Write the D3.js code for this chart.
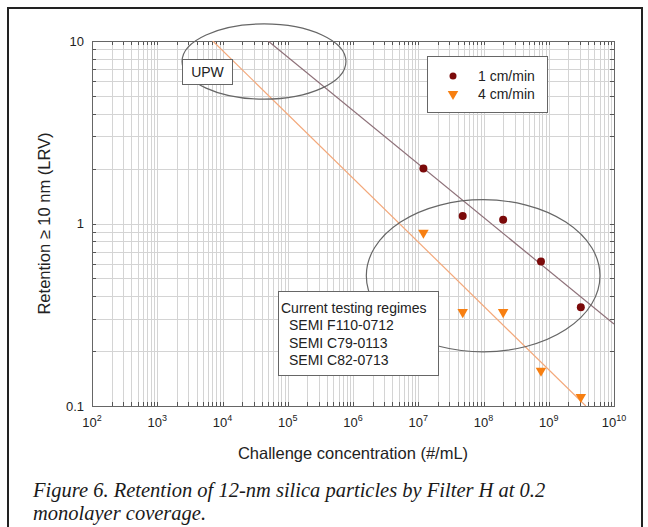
<!DOCTYPE html>
<html lang="en">
<head>
    <meta charset="UTF-8">
    <title>Retention of 12-nm silica particles</title>
    <style>
        body {
            margin: 0;
            padding: 0;
            background: #fff;
            overflow: hidden;
        }

        text {
            font-family: "Liberation Sans", Arial, sans-serif;
            fill: #222;
        }

        .grid line {
            stroke: #d4d4d4;
            stroke-width: 1px;
        }

        .note {
            fill: #fff;
            stroke: #666;
            stroke-width: 1px;
        }

        .caption {
            font-family: "Liberation Serif", "Times New Roman", serif;
            font-style: italic;
            font-size: 20.5px;
            fill: #1a1a1a;
        }
    </style>
</head>
<body>
    <script src="https://d3js.org/d3.v7.min.js"></script>
    <script>
        // measured values (LRV vs challenge concentration)
        const concentration = [1.2e7, 4.8e7, 2.0e8, 7.6e8, 3.1e9];
        const lrv1cm = [2.0, 1.10, 1.05, 0.62, 0.348];
        const lrv4cm = [0.89, 0.327, 0.327, 0.156, 0.112];

        // fitted trend lines, end points
        const fit1cm = [[5.0e4, 10], [1e10, 0.281]];
        const fit4cm = [[7.1e3, 10], [3.7e9, 0.1]];

        const seriesNames = ["1 cm/min", "4 cm/min"];
        const xTickExps = [2, 3, 4, 5, 6, 7, 8, 9, 10];
        const yTickLabels = ["0.1", "1", "10"];

        // annotation ellipses, data extents [x0, x1], [y0, y1]
        const upwEllipse = [[2.4e3, 7.8e5], [4.8, 12.4]];
        const regimeEllipse = [[1.6e6, 6.1e9], [0.198, 1.35]];
        const regimeLines = ["Current testing regimes", "SEMI F110-0712", "SEMI C79-0113", "SEMI C82-0713"];

        const width = 648, height = 527;
        const margin = { top: 41, right: 34, bottom: 121, left: 92 };

        const svg = d3.select("body").append("svg")
            .attr("width", width)
            .attr("height", height);

        // outer frame
        svg.append("path")
            .attr("d", `M8,${height} V8 H642 V${height}`)
            .attr("fill", "none")
            .attr("stroke", "#222")
            .attr("stroke-width", 2);

        const x = d3.scaleLog()
            .domain([1e2, 1e10])
            .range([margin.left, width - margin.right]);

        const y = d3.scaleLog()
            .domain([0.1, 10])
            .range([height - margin.bottom, margin.top]);

        const [x0, x1] = x.range();
        const [y0, y1] = y.range();

        // minor/major grid values
        const xGrid = [];
        for (let e = 2; e < 10; e++) {
            for (let m = 1; m < 10; m++) xGrid.push(m * Math.pow(10, e));
        }
        xGrid.push(1e10);
        const yGrid = [];
        for (let e = -1; e < 1; e++) {
            for (let m = 1; m < 10; m++) yGrid.push(m * Math.pow(10, e));
        }
        yGrid.push(10);

        const grid = svg.append("g").attr("class", "grid");
        grid.selectAll(".vx")
            .data(xGrid)
            .enter().append("line")
            .attr("x1", d => Math.round(x(d)) + 0.5)
            .attr("x2", d => Math.round(x(d)) + 0.5)
            .attr("y1", y1)
            .attr("y2", y0);
        grid.selectAll(".hy")
            .data(yGrid)
            .enter().append("line")
            .attr("y1", d => Math.round(y(d)) + 0.5)
            .attr("y2", d => Math.round(y(d)) + 0.5)
            .attr("x1", x0)
            .attr("x2", x1);

        // inner ticks on all four sides
        const ticks = svg.append("g")
            .attr("stroke", "#555")
            .attr("stroke-width", 1);
        xGrid.forEach(d => {
            const px = Math.round(x(d)) + 0.5;
            ticks.append("line").attr("x1", px).attr("x2", px).attr("y1", y0).attr("y2", y0 - 4);
            ticks.append("line").attr("x1", px).attr("x2", px).attr("y1", y1).attr("y2", y1 + 4);
        });
        yGrid.forEach(d => {
            const py = Math.round(y(d)) + 0.5;
            ticks.append("line").attr("y1", py).attr("y2", py).attr("x1", x0).attr("x2", x0 + 4);
            ticks.append("line").attr("y1", py).attr("y2", py).attr("x1", x1).attr("x2", x1 - 4);
        });

        svg.append("rect")
            .attr("x", x0 + 0.5)
            .attr("y", y1 + 0.5)
            .attr("width", x1 - x0)
            .attr("height", y0 - y1)
            .attr("fill", "none")
            .attr("stroke", "#666")
            .attr("stroke-width", 1);

        // axis labels
        svg.append("g").selectAll("text")
            .data(yTickLabels)
            .enter().append("text")
            .attr("x", x0 - 8)
            .attr("y", d => y(+d))
            .attr("dy", "0.35em")
            .attr("text-anchor", "end")
            .attr("font-size", "13px")
            .text(d => d);

        const xl = svg.append("g").selectAll("text")
            .data(xTickExps)
            .enter().append("text")
            .attr("x", d => x(Math.pow(10, d)))
            .attr("y", y0 + 21)
            .attr("text-anchor", "middle")
            .attr("font-size", "13px");
        xl.append("tspan").text("10");
        xl.append("tspan")
            .attr("dy", -6)
            .attr("font-size", "9px")
            .text(d => d);

        svg.append("text")
            .attr("x", (x0 + x1) / 2)
            .attr("y", y0 + 53)
            .attr("text-anchor", "middle")
            .attr("font-size", "16.5px")
            .text("Challenge concentration (#/mL)");

        svg.append("text")
            .attr("transform", `translate(50,${(y0 + y1) / 2}) rotate(-90)`)
            .attr("text-anchor", "middle")
            .attr("font-size", "16.5px")
            .text("Retention \u2265 10 nm (LRV)");

        // plot content, clipped to the plot box
        svg.append("clipPath").attr("id", "plot-clip")
            .append("rect")
            .attr("x", x0).attr("y", y1)
            .attr("width", x1 - x0).attr("height", y0 - y1);

        const plot = svg.append("g");
        const line = d3.line().x(d => x(d[0])).y(d => y(d[1]));

        plot.append("path")
            .attr("d", line(fit4cm))
            .attr("clip-path", "url(#plot-clip)")
            .attr("fill", "none")
            .attr("stroke", "#f3a87a")
            .attr("stroke-width", 1.2);

        plot.append("path")
            .attr("d", line(fit1cm))
            .attr("clip-path", "url(#plot-clip)")
            .attr("fill", "none")
            .attr("stroke", "#8d7078")
            .attr("stroke-width", 1.2);

        // annotation ellipses
        function ellipse(ext) {
            const cx = (x(ext[0][0]) + x(ext[0][1])) / 2;
            const cy = (y(ext[1][0]) + y(ext[1][1])) / 2;
            plot.append("ellipse")
                .attr("cx", cx)
                .attr("cy", cy)
                .attr("rx", Math.abs(x(ext[0][1]) - x(ext[0][0])) / 2)
                .attr("ry", Math.abs(y(ext[1][0]) - y(ext[1][1])) / 2)
                .attr("fill", "none")
                .attr("stroke", "#666")
                .attr("stroke-width", 1.2);
        }
        ellipse(upwEllipse);
        ellipse(regimeEllipse);

        const tri = d3.symbol().type(d3.symbolTriangle).size(48);

        plot.selectAll(".p1")
            .data(concentration)
            .enter().append("circle")
            .attr("cx", d => x(d))
            .attr("cy", (d, i) => y(lrv1cm[i]))
            .attr("r", 4)
            .attr("fill", "#7b0a0a");

        plot.selectAll(".p4")
            .data(concentration)
            .enter().append("path")
            .attr("d", tri)
            .attr("transform", (d, i) => `translate(${x(d)},${y(lrv4cm[i])}) rotate(180)`)
            .attr("fill", "#f77f11");

        // UPW label
        svg.append("rect").attr("class", "note")
            .attr("x", 182.5).attr("y", 59.5)
            .attr("width", 50).attr("height", 25);
        svg.append("text")
            .attr("x", 207.5).attr("y", 72)
            .attr("dy", "0.35em")
            .attr("text-anchor", "middle")
            .attr("font-size", "14px")
            .text("UPW");

        // legend
        const legend = svg.append("g");
        legend.append("rect").attr("class", "note")
            .attr("x", 427.5).attr("y", 56.5)
            .attr("width", 120).attr("height", 56);
        legend.append("circle")
            .attr("cx", 453).attr("cy", 76)
            .attr("r", 3.5)
            .attr("fill", "#7b0a0a");
        legend.append("path")
            .attr("d", tri)
            .attr("transform", "translate(453,94) rotate(180)")
            .attr("fill", "#f77f11");
        legend.selectAll(".lt")
            .data(seriesNames)
            .enter().append("text")
            .attr("x", 478)
            .attr("y", (d, i) => 76 + i * 18.5)
            .attr("dy", "0.35em")
            .attr("font-size", "14px")
            .text(d => d);

        // testing regimes box
        svg.append("rect").attr("class", "note")
            .attr("x", 278.5).attr("y", 291.5)
            .attr("width", 160).attr("height", 84);
        svg.selectAll(".rt")
            .data(regimeLines)
            .enter().append("text")
            .attr("x", (d, i) => i === 0 ? 281 : 289)
            .attr("y", (d, i) => 308 + i * 17.3)
            .attr("dy", "0.35em")
            .attr("font-size", "14px")
            .text(d => d);

        // figure caption
        svg.append("text").attr("class", "caption")
            .attr("x", 33).attr("y", 497)
            .text("Figure 6. Retention of 12-nm silica particles by Filter H at 0.2");
        svg.append("text").attr("class", "caption")
            .attr("x", 33).attr("y", 520)
            .text("monolayer coverage.");
    </script>
</body>
</html>
